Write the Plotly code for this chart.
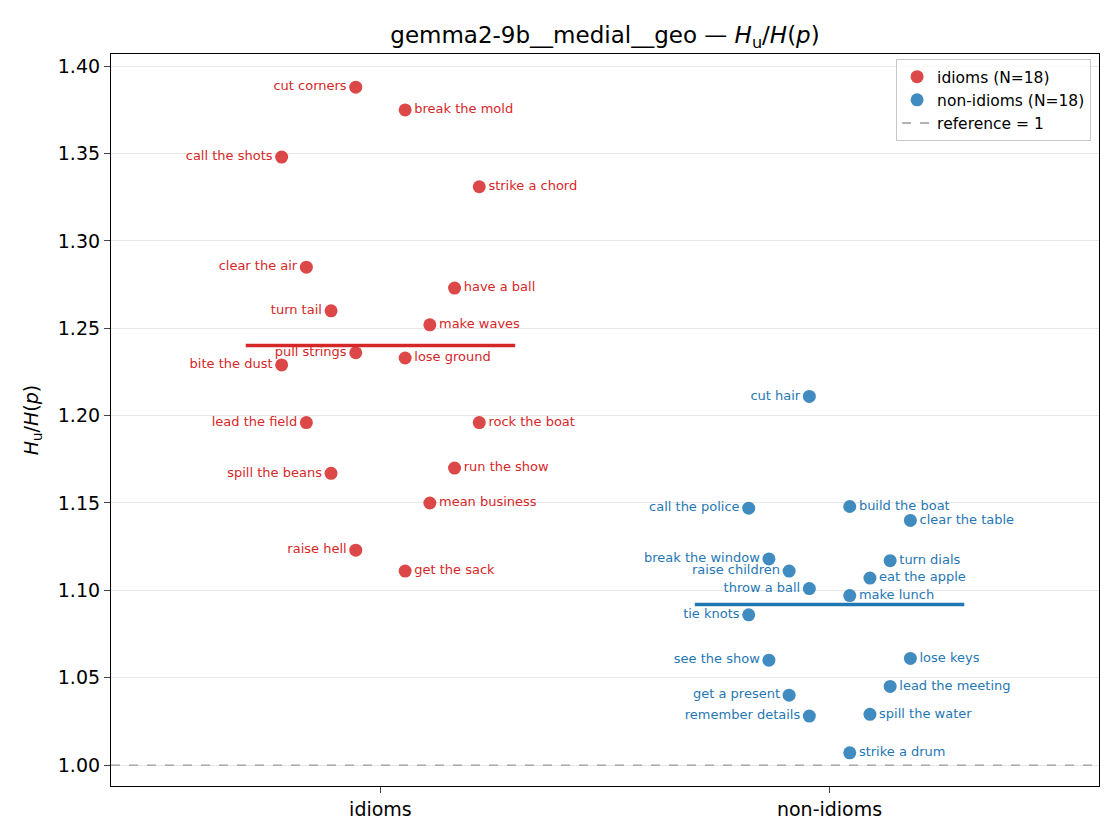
"""Strip plot of H_u/H(p) for idioms vs non-idioms."""
import plotly.graph_objects as go

categories = ["idioms", "non-idioms"]

idiom_labels = ["cut corners", "break the mold", "call the shots", "strike a chord", "clear the air",
                "have a ball", "turn tail", "make waves", "pull strings", "lose ground", "bite the dust",
                "lead the field", "rock the boat", "spill the beans", "run the show", "mean business",
                "raise hell", "get the sack"]
idiom_values = [1.388, 1.375, 1.348, 1.331, 1.285, 1.273, 1.260, 1.252, 1.236, 1.233, 1.229,
                1.196, 1.196, 1.167, 1.170, 1.150, 1.123, 1.111]
idiom_jitter = [-0.055, 0.055, -0.22, 0.22, -0.165, 0.165, -0.11, 0.11, -0.055, 0.055, -0.22,
                -0.165, 0.22, -0.11, 0.165, 0.11, -0.055, 0.055]

nonidiom_labels = ["cut hair", "call the police", "build the boat", "clear the table", "break the window",
                   "turn dials", "raise children", "eat the apple", "throw a ball", "make lunch", "tie knots",
                   "see the show", "lose keys", "lead the meeting", "get a present", "spill the water",
                   "remember details", "strike a drum"]
nonidiom_values = [1.211, 1.147, 1.148, 1.140, 1.118, 1.117, 1.111, 1.107, 1.101, 1.097, 1.086,
                   1.060, 1.061, 1.045, 1.040, 1.029, 1.028, 1.007]
nonidiom_jitter = [-0.045, -0.18, 0.045, 0.18, -0.135, 0.135, -0.09, 0.09, -0.045, 0.045, -0.18,
                   -0.135, 0.18, 0.135, -0.09, 0.09, -0.045, 0.045]

y_ticks = [1.00, 1.05, 1.10, 1.15, 1.20, 1.25, 1.30, 1.35, 1.40]

RED = "#d62728"
BLUE = "#1f77b4"
FONT = "DejaVu Sans"

fig = go.Figure()

groups = [(0, idiom_labels, idiom_values, idiom_jitter, RED),
          (1, nonidiom_labels, nonidiom_values, nonidiom_jitter, BLUE)]

for pos, labels, values, jitter, color in groups:
    xs = [pos + j for j in jitter]
    fig.add_trace(go.Scatter(
        x=xs, y=values, mode="markers+text", text=labels,
        textposition=["middle left" if j < 0 else "middle right" for j in jitter],
        textfont={"size": 13, "color": color, "family": FONT},
        marker={"size": 13, "color": color, "opacity": 0.85, "line": {"width": 0}},
        name=f"{categories[pos]} (N={len(values)})", cliponaxis=False))
    mean = sum(values) / len(values)
    fig.add_trace(go.Scatter(x=[pos - 0.3, pos + 0.3], y=[mean, mean], mode="lines",
                             line={"color": color, "width": 3.5}, showlegend=False, hoverinfo="skip"))

fig.add_trace(go.Scatter(x=[-0.6, 1.6], y=[1, 1], mode="lines", name="reference = 1",
                         line={"color": "#999999", "width": 1.3, "dash": "dash"}))

# the page body has an 8px margin, so the figure is shrunk by that much
fig.update_layout(
    width=1112, height=832, plot_bgcolor="white", paper_bgcolor="white",
    margin={"l": 103, "r": 21, "t": 46, "b": 54},
    font={"family": FONT, "size": 19, "color": "black"},
    title={"text": "gemma2-9b__medial__geo — <i>H</i><sub>u</sub>/<i>H</i>(<i>p</i>)",
           "x": 0.5, "xref": "paper", "xanchor": "center", "y": 0.9675, "yanchor": "middle",
           "font": {"size": 23}},
    legend={"x": 0.992, "y": 0.993, "xanchor": "right", "yanchor": "top",
            "bordercolor": "#c8c8c8", "borderwidth": 1, "bgcolor": "rgba(255,255,255,0.8)",
            "font": {"size": 15.5}, "tracegroupgap": 0, "itemwidth": 30},
    showlegend=True,
)
fig.update_xaxes(range=[-0.6, 1.6], tickvals=[0, 1], ticktext=categories, showgrid=False,
                 zeroline=False, showline=True, mirror=True, linecolor="black", linewidth=1.2,
                 ticks="outside", ticklen=6, tickfont={"size": 19})
fig.update_yaxes(range=[0.988, 1.407], tickvals=y_ticks, tickformat=".2f", showgrid=True,
                 gridcolor="#e8e8e8", zeroline=False, showline=True, mirror=True, linecolor="black",
                 linewidth=1.2, ticks="outside", ticklen=6, tickfont={"size": 19},
                 title={"text": "<i>H</i><sub>u</sub>/<i>H</i>(<i>p</i>)", "font": {"size": 19}, "standoff": 14})

fig.write_html("out.html")
